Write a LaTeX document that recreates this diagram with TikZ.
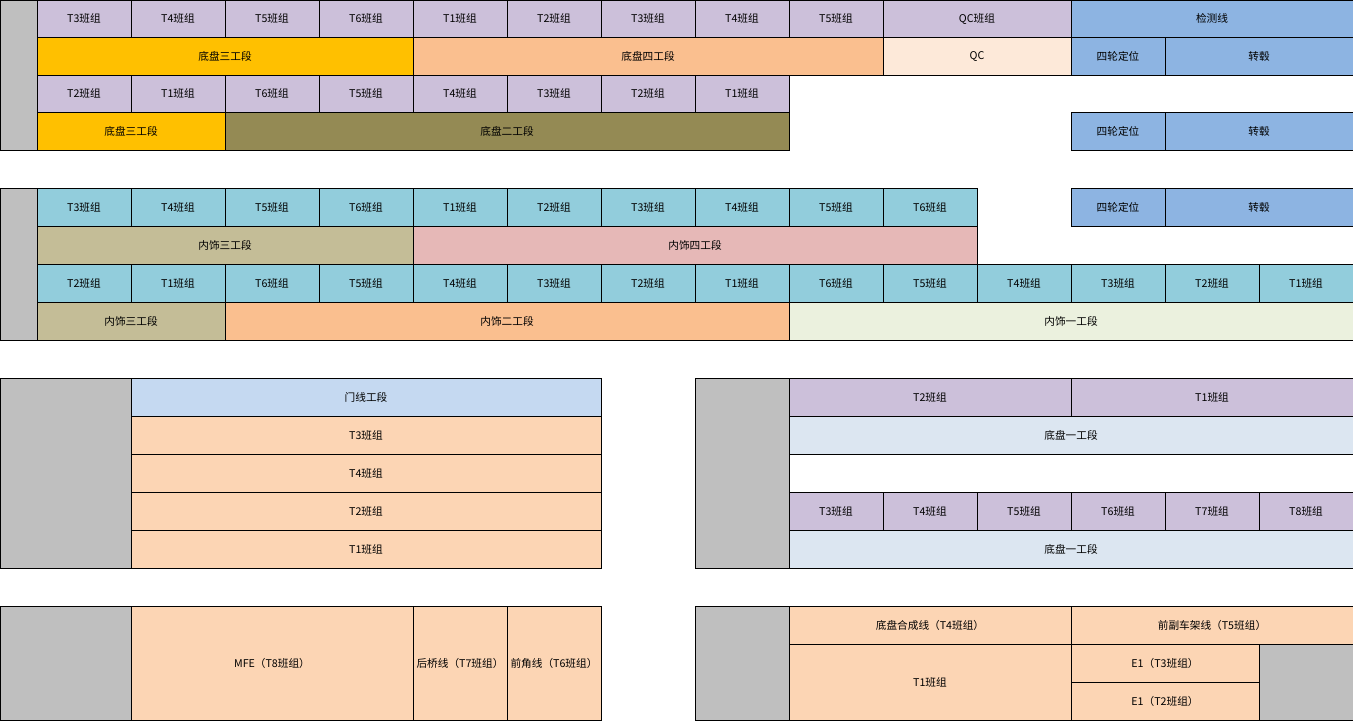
\documentclass[tikz,border=0pt]{standalone}
\usepackage{fontspec}
\setmainfont{Noto Sans CJK SC}
\usepackage{xcolor}
\definecolor{lav}{HTML}{CCC0DA}
\definecolor{yel}{HTML}{FFC000}
\definecolor{ora}{HTML}{FABF8F}
\definecolor{qcl}{HTML}{FDE9D9}
\definecolor{blu}{HTML}{8DB4E2}
\definecolor{oli}{HTML}{948A54}
\definecolor{teal}{HTML}{92CDDC}
\definecolor{tan}{HTML}{C4BD97}
\definecolor{pnk}{HTML}{E6B8B7}
\definecolor{pgr}{HTML}{EBF1DE}
\definecolor{lblu}{HTML}{C5D9F1}
\definecolor{pch}{HTML}{FCD5B4}
\definecolor{ice}{HTML}{DCE6F1}
\definecolor{gry}{HTML}{BFBFBF}
\tikzset{cell/.style={draw=black,line width=0.7pt}}
\newcommand{\plancell}[6]{\draw[cell,fill=#5] (#1,#2) rectangle (#3,#4) node[midway] {#6};}

\begin{document}
\begin{tikzpicture}[x=0.75pt,y=-0.75pt,font=\fontsize{8}{9}\selectfont]
 \useasboundingbox (0,0) rectangle (1353,722);
 \plancell{0}{0}{37}{150}{gry}{}
 \foreach \t [count=\i from 0] in {T3,T4,T5,T6,T1,T2,T3,T4,T5}
  {\plancell{37+94*\i}{0}{131+94*\i}{37.5}{lav}{\t{}班组}}
 \plancell{883}{0}{1071}{37.5}{lav}{QC班组}
 \plancell{1071}{0}{1353}{37.5}{blu}{检测线}
 \plancell{37}{37.5}{413}{75}{yel}{底盘三工段}
 \plancell{413}{37.5}{883}{75}{ora}{底盘四工段}
 \plancell{883}{37.5}{1071}{75}{qcl}{QC}
 \plancell{1071}{37.5}{1165}{75}{blu}{四轮定位}
 \plancell{1165}{37.5}{1353}{75}{blu}{转毂}
 \foreach \t [count=\i from 0] in {T2,T1,T6,T5,T4,T3,T2,T1}
  {\plancell{37+94*\i}{75}{131+94*\i}{112.5}{lav}{\t{}班组}}
 \plancell{37}{112.5}{225}{150}{yel}{底盘三工段}
 \plancell{225}{112.5}{789}{150}{oli}{底盘二工段}
 \plancell{1071}{112.5}{1165}{150}{blu}{四轮定位}
 \plancell{1165}{112.5}{1353}{150}{blu}{转毂}

 \plancell{0}{188}{37}{340}{gry}{}
 \foreach \t [count=\i from 0] in {T3,T4,T5,T6,T1,T2,T3,T4,T5,T6}
  {\plancell{37+94*\i}{188}{131+94*\i}{226}{teal}{\t{}班组}}
 \plancell{1071}{188}{1165}{226}{blu}{四轮定位}
 \plancell{1165}{188}{1353}{226}{blu}{转毂}
 \plancell{37}{226}{413}{264}{tan}{内饰三工段}
 \plancell{413}{226}{977}{264}{pnk}{内饰四工段}
 \foreach \t [count=\i from 0] in {T2,T1,T6,T5,T4,T3,T2,T1,T6,T5,T4,T3,T2,T1}
  {\plancell{37+94*\i}{264}{131+94*\i}{302}{teal}{\t{}班组}}
 \plancell{37}{302}{225}{340}{tan}{内饰三工段}
 \plancell{225}{302}{789}{340}{ora}{内饰二工段}
 \plancell{789}{302}{1353}{340}{pgr}{内饰一工段}

 \plancell{0}{378}{131}{568}{gry}{}
 \plancell{131}{378}{601}{416}{lblu}{门线工段}
 \foreach \t [count=\i from 0] in {T3,T4,T2,T1}
  {\plancell{131}{416+38*\i}{601}{454+38*\i}{pch}{\t{}班组}}
 \plancell{695}{378}{789}{568}{gry}{}
 \plancell{789}{378}{1071}{416}{lav}{T2班组}
 \plancell{1071}{378}{1353}{416}{lav}{T1班组}
 \plancell{789}{416}{1353}{454}{ice}{底盘一工段}
 \plancell{789}{454}{1353}{492}{white}{}
 \foreach \t [count=\i from 0] in {T3,T4,T5,T6,T7,T8}
  {\plancell{789+94*\i}{492}{883+94*\i}{530}{lav}{\t{}班组}}
 \plancell{789}{530}{1353}{568}{ice}{底盘一工段}

 \plancell{0}{606}{131}{720}{gry}{}
 \plancell{131}{606}{413}{720}{pch}{MFE（T8班组）}
 \plancell{413}{606}{507}{720}{pch}{后桥线（T7班组）}
 \plancell{507}{606}{601}{720}{pch}{前角线（T6班组）}
 \plancell{695}{606}{789}{720}{gry}{}
 \plancell{789}{606}{1071}{644}{pch}{底盘合成线（T4班组）}
 \plancell{1071}{606}{1353}{644}{pch}{前副车架线（T5班组）}
 \plancell{789}{644}{1071}{720}{pch}{T1班组}
 \plancell{1071}{644}{1259}{682}{pch}{E1（T3班组）}
 \plancell{1071}{682}{1259}{720}{pch}{E1（T2班组）}
 \plancell{1259}{644}{1353}{720}{gry}{}
\end{tikzpicture}
\end{document}
